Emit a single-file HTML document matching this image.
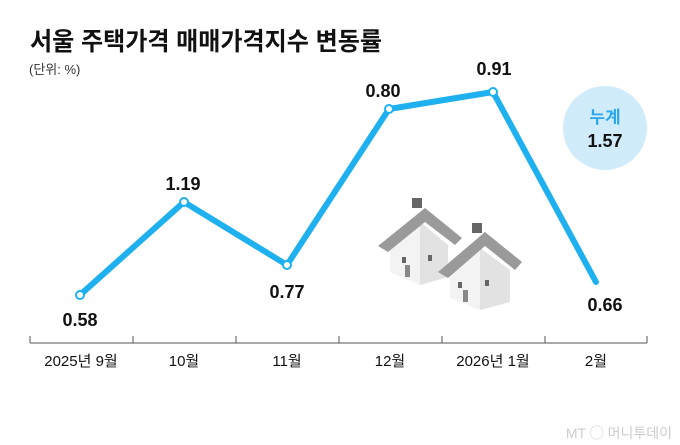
<!DOCTYPE html>
<html><head><meta charset="utf-8"><style>
html,body{margin:0;padding:0;background:#fff;}
svg{display:block;}
text{font-family:"Liberation Sans","Noto Sans CJK KR",sans-serif;}
</style></head><body>
<svg width="680" height="445" viewBox="0 0 680 445" xmlns="http://www.w3.org/2000/svg">
<rect width="680" height="445" fill="#fff"/>
<text x="30" y="50" font-size="25" font-weight="bold" fill="#111" textLength="352" lengthAdjust="spacingAndGlyphs">서울 주택가격 매매가격지수 변동률</text>
<text x="29" y="74" font-size="13" fill="#333">(단위: %)</text>
<circle cx="605" cy="128" r="42" fill="#d0ecfb"/>
<text x="605" y="123" font-size="17" font-weight="bold" fill="#2aa6ea" text-anchor="middle">누계</text>
<text x="605" y="147" font-size="18" font-weight="bold" fill="#111" text-anchor="middle">1.57</text>
<g>
 <rect x="412" y="198" width="10" height="10" fill="#666"/>
 <polygon points="390,245 420,222 448,245 448,277 420,285 390,272" fill="#f3f3f3"/>
 <polygon points="420,222 448,245 448,277 420,285" fill="#e2e2e2"/>
 <polygon points="378,246 425,208 462,238 455,245 425,222 388,252" fill="#9a9a9a"/>
 <rect x="402" y="257" width="4" height="6" fill="#666"/><rect x="428" y="255" width="4" height="6" fill="#666"/>
 <rect x="405" y="265" width="5" height="12" fill="#888"/>
 <rect x="472" y="223" width="10" height="10" fill="#666"/>
 <polygon points="450,270 480,248 510,270 510,302 480,310 450,298" fill="#f3f3f3"/>
 <polygon points="480,248 510,270 510,302 480,310" fill="#e2e2e2"/>
 <polygon points="438,272 485,232 522,262 515,270 485,246 448,278" fill="#9a9a9a"/>
 <rect x="458" y="282" width="4" height="6" fill="#666"/><rect x="485" y="280" width="4" height="6" fill="#666"/>
 <rect x="463" y="290" width="5" height="12" fill="#888"/>
</g>
<polyline points="80,295 184,202 287,265 389,109 493,92 596,282" fill="none" stroke="#1fb0f0" stroke-width="6" stroke-linejoin="round" stroke-linecap="round"/>
<g fill="#fff" stroke="#1fb0f0" stroke-width="2">
<circle cx="80" cy="295" r="4"/><circle cx="184" cy="202" r="4"/><circle cx="287" cy="265" r="4"/><circle cx="389" cy="109" r="4"/><circle cx="493" cy="92" r="4"/>
</g>
<g font-size="18" font-weight="bold" fill="#111" text-anchor="middle">
<text x="80" y="326">0.58</text><text x="183" y="190">1.19</text><text x="287" y="298">0.77</text>
<text x="383" y="97">0.80</text><text x="494" y="75">0.91</text><text x="605" y="311">0.66</text>
</g>
<g stroke="#555" stroke-width="1" fill="none">
<line x1="30" y1="343" x2="647" y2="343"/>
<line x1="30" y1="336" x2="30" y2="343"/><line x1="133" y1="336" x2="133" y2="343"/><line x1="236" y1="336" x2="236" y2="343"/><line x1="339" y1="336" x2="339" y2="343"/><line x1="442" y1="336" x2="442" y2="343"/><line x1="545" y1="336" x2="545" y2="343"/><line x1="647" y1="336" x2="647" y2="343"/>
</g>
<g font-size="15" fill="#111" text-anchor="middle">
<text x="81" y="366">2025년 9월</text><text x="184" y="366">10월</text><text x="287" y="366">11월</text><text x="390" y="366">12월</text><text x="493" y="366">2026년 1월</text><text x="596" y="366">2월</text>
</g>
<text x="672" y="438" font-size="14" fill="#ccc" text-anchor="end">MT ◯ 머니투데이</text>
</svg>
</body></html>
